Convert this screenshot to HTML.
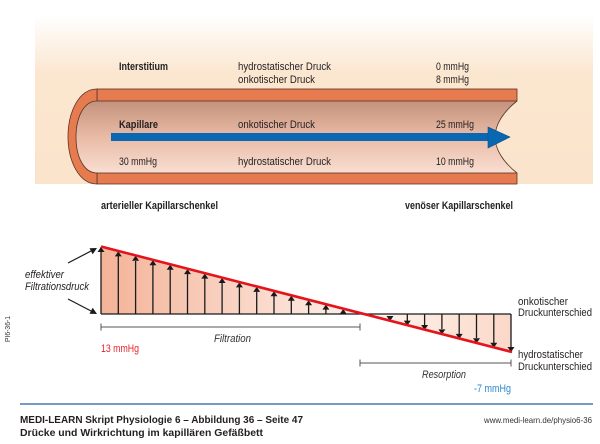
<!DOCTYPE html>
<html><head><meta charset="utf-8"><style>
html,body{margin:0;padding:0;background:#fff;}
svg{display:block;}
text{font-family:"Liberation Sans Narrow","Liberation Sans",sans-serif;fill:#231f20;}
.b{font-weight:bold;}
.i{font-style:italic;}
.f{font-family:"Liberation Sans",sans-serif;}
</style></head><body>
<svg width="600" height="444" viewBox="0 0 600 444" xmlns="http://www.w3.org/2000/svg">
<defs>
<linearGradient id="bg" x1="0" y1="15" x2="0" y2="184" gradientUnits="userSpaceOnUse">
<stop offset="0" stop-color="#ffffff"/>
<stop offset="0.35" stop-color="#fbe6cf"/>
<stop offset="1" stop-color="#fbe4cc"/>
</linearGradient>
<linearGradient id="inner" x1="0" y1="101" x2="0" y2="173" gradientUnits="userSpaceOnUse">
<stop offset="0" stop-color="#c3927c"/>
<stop offset="0.5" stop-color="#e9bba6"/>
<stop offset="1" stop-color="#f8ded2"/>
</linearGradient>
<linearGradient id="fl" x1="101" y1="0" x2="362" y2="0" gradientUnits="userSpaceOnUse">
<stop offset="0" stop-color="#f4b398"/>
<stop offset="1" stop-color="#fdf1eb"/>
</linearGradient>
<linearGradient id="fr" x1="362" y1="0" x2="511" y2="0" gradientUnits="userSpaceOnUse">
<stop offset="0" stop-color="#fff6f2"/>
<stop offset="1" stop-color="#fbd8c8"/>
</linearGradient>
</defs>

<rect x="35" y="15" width="558" height="169" fill="url(#bg)"/>

<path d="M97,101 L517,101 C503,112 495,125 495,137 C495,149 503,162 517,173 L97,173 C84,173 76,157 76,137 C76,117 84,101 97,101 Z" fill="url(#inner)"/>
<path d="M517,101 C503,112 495,125 495,137 C495,149 503,162 517,173" fill="none" stroke="#5a3526" stroke-width="0.8"/>
<rect x="97" y="89" width="420" height="12" fill="#e67b4f" stroke="#5a3526" stroke-width="0.8"/>
<rect x="97" y="173" width="420" height="11" fill="#e67b4f" stroke="#5a3526" stroke-width="0.8"/>
<path d="M97,89 C79,89 68,112 68,136.5 C68,161 79,184 97,184 L97,173 C84,173 76,157 76,137 C76,117 84,101 97,101 Z" fill="#e67b4f" stroke="#5a3526" stroke-width="0.8"/>

<rect x="111" y="133" width="378" height="8" fill="#0a67b2"/>
<polygon points="488,127 510,137 488,148" fill="#0a67b2" stroke="#0a4f8a" stroke-width="0.6"/>

<text class="b" x="119" y="70" font-size="11" textLength="49" lengthAdjust="spacingAndGlyphs">Interstitium</text>
<text x="238" y="70" font-size="11" textLength="93" lengthAdjust="spacingAndGlyphs">hydrostatischer Druck</text>
<text x="238" y="83" font-size="11" textLength="77" lengthAdjust="spacingAndGlyphs">onkotischer Druck</text>
<text x="436" y="70" font-size="11" textLength="33" lengthAdjust="spacingAndGlyphs">0 mmHg</text>
<text x="436" y="83" font-size="11" textLength="33" lengthAdjust="spacingAndGlyphs">8 mmHg</text>
<text class="b" x="119" y="128" font-size="11" textLength="39" lengthAdjust="spacingAndGlyphs">Kapillare</text>
<text x="238" y="128" font-size="11" textLength="77" lengthAdjust="spacingAndGlyphs">onkotischer Druck</text>
<text x="436" y="128" font-size="11" textLength="38" lengthAdjust="spacingAndGlyphs">25 mmHg</text>
<text x="119" y="165" font-size="11" textLength="38" lengthAdjust="spacingAndGlyphs">30 mmHg</text>
<text x="238" y="165" font-size="11" textLength="93" lengthAdjust="spacingAndGlyphs">hydrostatischer Druck</text>
<text x="436" y="165" font-size="11" textLength="38" lengthAdjust="spacingAndGlyphs">10 mmHg</text>

<text class="b" x="101" y="209" font-size="11" textLength="117" lengthAdjust="spacingAndGlyphs">arterieller Kapillarschenkel</text>
<text class="b" x="405" y="209" font-size="11" textLength="108" lengthAdjust="spacingAndGlyphs">venöser Kapillarschenkel</text>

<polygon points="101,247 362.6,314 101,314" fill="url(#fl)"/>
<polygon points="362.6,314 511,314 511,352" fill="url(#fr)"/>

<g stroke="#1a1a1a" stroke-width="1.3" fill="none">
<line x1="101" y1="247" x2="101" y2="314"/>
<line x1="101" y1="314" x2="511" y2="314"/>
<line x1="511" y1="314" x2="511" y2="352"/>
</g>

<g stroke="#1a1a1a" stroke-width="1.3" fill="#1a1a1a">
<line x1="118.3" y1="314" x2="118.3" y2="256"/><polygon points="114.8,256.4 121.8,256.4 118.3,251.4" stroke="none"/>
<line x1="135.6" y1="314" x2="135.6" y2="261"/><polygon points="132.1,260.8 139.1,260.8 135.6,255.8" stroke="none"/>
<line x1="152.9" y1="314" x2="152.9" y2="265"/><polygon points="149.4,265.3 156.4,265.3 152.9,260.3" stroke="none"/>
<line x1="170.2" y1="314" x2="170.2" y2="269"/><polygon points="166.7,269.7 173.7,269.7 170.2,264.7" stroke="none"/>
<line x1="187.5" y1="314" x2="187.5" y2="274"/><polygon points="184,274.1 191,274.1 187.5,269.1" stroke="none"/>
<line x1="204.8" y1="314" x2="204.8" y2="278"/><polygon points="201.3,278.6 208.3,278.6 204.8,273.6" stroke="none"/>
<line x1="222.1" y1="314" x2="222.1" y2="283"/><polygon points="218.6,283 225.6,283 222.1,278" stroke="none"/>
<line x1="239.4" y1="314" x2="239.4" y2="287"/><polygon points="235.9,287.4 242.9,287.4 239.4,282.4" stroke="none"/>
<line x1="256.7" y1="314" x2="256.7" y2="292"/><polygon points="253.2,291.9 260.2,291.9 256.7,286.9" stroke="none"/>
<line x1="274" y1="314" x2="274" y2="296"/><polygon points="270.5,296.3 277.5,296.3 274,291.3" stroke="none"/>
<line x1="291.3" y1="314" x2="291.3" y2="300"/><polygon points="287.8,300.7 294.8,300.7 291.3,295.7" stroke="none"/>
<line x1="308.6" y1="314" x2="308.6" y2="305"/><polygon points="305.1,305.2 312.1,305.2 308.6,300.2" stroke="none"/>
<line x1="325.9" y1="314" x2="325.9" y2="309"/><polygon points="322.4,309.6 329.4,309.6 325.9,304.6" stroke="none"/>
<polygon points="339.7,314 346.7,314 343.2,309" stroke="none"/>
<polygon points="97.5,252 104.5,252 101,247" stroke="none"/>
</g>

<g stroke="#1a1a1a" stroke-width="1.3" fill="#1a1a1a">
<polygon points="386.5,316 393.5,316 390,321" stroke="none"/>
<line x1="407.3" y1="314" x2="407.3" y2="321"/><polygon points="403.8,320.6 410.8,320.6 407.3,325.6" stroke="none"/>
<line x1="424.6" y1="314" x2="424.6" y2="325"/><polygon points="421.1,325 428.1,325 424.6,330" stroke="none"/>
<line x1="441.9" y1="314" x2="441.9" y2="329"/><polygon points="438.4,329.4 445.4,329.4 441.9,334.4" stroke="none"/>
<line x1="459.2" y1="314" x2="459.2" y2="334"/><polygon points="455.7,333.9 462.7,333.9 459.2,338.9" stroke="none"/>
<line x1="476.5" y1="314" x2="476.5" y2="338"/><polygon points="473,338.3 480,338.3 476.5,343.3" stroke="none"/>
<line x1="493.8" y1="314" x2="493.8" y2="343"/><polygon points="490.3,342.7 497.3,342.7 493.8,347.7" stroke="none"/>
<polygon points="507.5,347 514.5,347 511,352" stroke="none"/>
</g>

<line x1="101" y1="246.5" x2="512" y2="352" stroke="#e5141c" stroke-width="2.6"/>

<g stroke="#1a1a1a" stroke-width="1.2" fill="#1a1a1a">
<line x1="68" y1="263" x2="93" y2="250"/><polygon points="97,248 89.5,248.2 92.7,254.3" stroke="none"/>
<line x1="68" y1="299" x2="93" y2="312"/><polygon points="97,314 92.7,307.7 89.5,313.8" stroke="none"/>
</g>
<text class="i" x="25" y="278" font-size="11" textLength="39" lengthAdjust="spacingAndGlyphs">effektiver</text>
<text class="i" x="25" y="290" font-size="11" textLength="64" lengthAdjust="spacingAndGlyphs">Filtrationsdruck</text>
<text x="0" y="0" font-size="7" transform="translate(10,342) rotate(-90)" textLength="26" lengthAdjust="spacingAndGlyphs" style="fill:#333">PI6-36-1</text>

<g stroke="#555" stroke-width="1" fill="none">
<line x1="101" y1="327" x2="360" y2="327"/>
<line x1="101" y1="323.5" x2="101" y2="330.5"/>
<line x1="360" y1="323.5" x2="360" y2="330.5"/>
<line x1="360" y1="363" x2="511" y2="363"/>
<line x1="360" y1="359.5" x2="360" y2="366.5"/>
<line x1="511" y1="359.5" x2="511" y2="366.5"/>
</g>
<text class="i" x="214" y="342" font-size="11" textLength="37" lengthAdjust="spacingAndGlyphs" style="fill:#333">Filtration</text>
<text x="101" y="352" font-size="11" textLength="38" lengthAdjust="spacingAndGlyphs" style="fill:#e3262b">13 mmHg</text>
<text class="i" x="422" y="378" font-size="11" textLength="44" lengthAdjust="spacingAndGlyphs" style="fill:#333">Resorption</text>
<text x="474" y="392" font-size="11" textLength="37" lengthAdjust="spacingAndGlyphs" style="fill:#2a88cf">-7 mmHg</text>

<text x="518" y="305" font-size="11" textLength="50" lengthAdjust="spacingAndGlyphs">onkotischer</text>
<text x="518" y="316" font-size="11" textLength="74" lengthAdjust="spacingAndGlyphs">Druckunterschied</text>
<text x="518" y="358" font-size="11" textLength="65" lengthAdjust="spacingAndGlyphs">hydrostatischer</text>
<text x="518" y="370" font-size="11" textLength="74" lengthAdjust="spacingAndGlyphs">Druckunterschied</text>

<line x1="20" y1="404" x2="593" y2="404" stroke="#4a78b2" stroke-width="1.5"/>
<text class="b f" x="20" y="423" font-size="10" textLength="283" lengthAdjust="spacingAndGlyphs">MEDI-LEARN Skript Physiologie 6 – Abbildung 36 – Seite 47</text>
<text class="b f" x="20" y="436" font-size="10" textLength="243" lengthAdjust="spacingAndGlyphs">Drücke und Wirkrichtung im kapillären Gefäßbett</text>
<text class="f" x="484" y="423" font-size="8.5" textLength="108" lengthAdjust="spacingAndGlyphs" style="fill:#333">www.medi-learn.de/physio6-36</text>
</svg>
</body></html>
